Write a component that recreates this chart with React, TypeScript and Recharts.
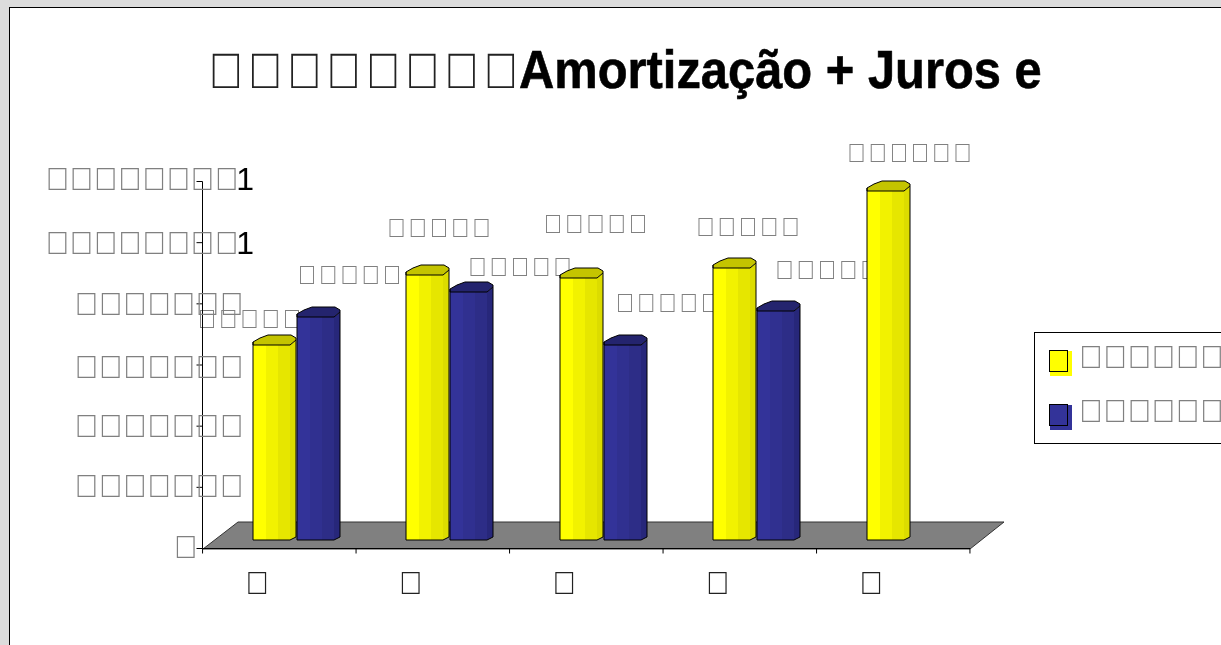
import { BarChart, Bar, XAxis, YAxis, Legend } from 'recharts'

const TOFU = '\uE000'
const box = (n: number) => TOFU.repeat(n)

const titleBoxes = box(8)
const titleText = 'Amortização + Juros e Correção'
const categories = [box(1), box(1), box(1), box(1), box(1)]
const yellowValues = [637000, 866000, 854000, 889000, 1141000]
const blueValues = [729000, 808000, 637000, 746000, null]
const yellowLabels = [box(5), box(5), box(5), box(5), box(6)]
const blueLabels = [box(5), box(5), box(5), box(5), '']
const yTicks = [0, 200000, 400000, 600000, 800000, 1000000, 1200000]
const yTickBoxes = [box(1), box(7), box(7), box(7), box(7), box(8), box(8)]
const yTickDigits = ['', '', '', '', '', '1', '1']
const seriesNames = [box(8), box(8)]

const chartData = categories.map((name, i) => ({ name, yellow: yellowValues[i], blue: blueValues[i] }))

// label nudges from the bar centre / cap top, the source chart places these by hand
const YELLOW_NUDGE = [[-26, -15], [10, -36], [13, -44], [12, -30], [20, -27]]
const BLUE_NUDGE = [[30, -31], [47, -15], [41, -31], [47, -31], [0, 0]]
const Y_TICK_END = [192, 238, 238, 238, 238, 233, 233]
const Y_TICK_DY = [9, 10, 11, 12.5, 10.7, 11.8, 8]

const DEPTH_X = 17
const DEPTH_Y = 9
const GREY = '#808080'
const FONT = '"Liberation Sans", Arial, sans-serif'

const YELLOW_SHADES = ['#ffff00', '#f2f200', '#e6e600', '#dcdc00', '#c4c400']
const BLUE_SHADES = ['#333399', '#303090', '#2d2d87', '#27277a', '#24246e']

// the missing-glyph boxes are narrower than the font's own, so squeeze them and keep the pitch
function Boxes({ left, base, text, size, pitch, squeeze, fill }: any) {
  const advance = size * 0.75
  return (
    <text
      transform={`translate(${left},${base}) scale(${squeeze},1)`}
      fontSize={size}
      fontFamily={FONT}
      fill={fill}
      letterSpacing={pitch / squeeze - advance}
    >
      {text}
    </text>
  )
}

function Column({ x, y, width, height, shades }: any) {
  if (!height || height <= 0) return null
  const left = Math.round(x + DEPTH_X)
  const top = Math.round(y - DEPTH_Y)
  const bottom = Math.round(y + height - DEPTH_Y)
  const w = width - 1
  const front = w - 6
  const a = Math.round(front * 0.36)
  const b = Math.round(front * 0.68)
  return (
    <g>
      <rect x={left} y={top} width={a} height={bottom - top} fill={shades[0]} />
      <rect x={left + a} y={top} width={b - a} height={bottom - top} fill={shades[1]} />
      <rect x={left + b} y={top} width={front - b} height={bottom - top} fill={shades[2]} />
      <polygon
        points={`${left + front},${top} ${left + w},${top - 5} ${left + w},${bottom - 3} ${left + front},${bottom}`}
        fill={shades[3]}
      />
      <polygon
        points={`${left},${top - 3} ${left + 7},${top - 7} ${left + 15},${top - 10} ${left + front + 1},${top - 10} ${left + w},${top - 7} ${left + w},${top - 5} ${left + front},${top} ${left},${top}`}
        fill={shades[4]}
        stroke="#000"
        strokeWidth={1}
        strokeLinejoin="round"
      />
      <path
        d={`M${left},${top - 3} L${left},${bottom} L${left + front},${bottom} L${left + w},${bottom - 3} L${left + w},${top - 5}`}
        fill="none"
        stroke="#000"
        strokeWidth={1}
      />
    </g>
  )
}

function ValueLabel({ x, y, width, text, nudge }: any) {
  if (!text) return null
  const pitch = 21.2
  const total = text.length * pitch - 7.7
  const cx = x + DEPTH_X + width / 2 + nudge[0] - 1
  return (
    <Boxes left={cx - total / 2 - 1} base={y - DEPTH_Y - 10 + nudge[1] + 8.5} text={text} size={26} pitch={pitch} squeeze={0.98} fill={GREY} />
  )
}

function YTick({ y, index }: any) {
  const text = yTickBoxes[index]
  const base = y + Y_TICK_DY[index]
  const left = Y_TICK_END[index] - text.length * 24.2 + 6
  return (
    <g>
      <Boxes left={left} base={base} text={text} size={32} pitch={24.2} squeeze={1} fill={GREY} />
      {yTickDigits[index] && (
        <text x={254} y={base} textAnchor="end" fontSize={32} fontFamily={FONT} fill="#000">
          {yTickDigits[index]}
        </text>
      )}
    </g>
  )
}

function XTick({ x, y, index, payload }: any) {
  const band = 767 / categories.length
  return (
    <g>
      <line x1={x - band / 2} x2={x - band / 2} y1={y - 8} y2={y - 3} stroke="#000" />
      {index === categories.length - 1 && <line x1={x + band / 2} x2={x + band / 2} y1={y - 8} y2={y - 3} stroke="#000" />}
      <Boxes left={x - 34} base={y + 37} text={payload.value} size={32} pitch={24.2} squeeze={1} fill="#222" />
    </g>
  )
}

function LegendBox({ payload }: any) {
  const items = (payload ?? []).filter((p: any) => p.type !== 'none')
  return (
    <div style={{ width: 200, height: 112, boxSizing: 'border-box', border: '1px solid #000', background: '#fff', paddingTop: 14, paddingLeft: 14 }}>
      {items.map((p: any, i: number) => (
        <div key={i} style={{ position: 'relative', height: 54 }}>
          <span style={{ position: 'absolute', left: 1, top: 4, width: 22, height: 25, background: p.color }} />
          <span style={{ position: 'absolute', left: 0, top: 3, width: 17, height: 20, border: '1px solid #000', background: p.color }} />
          <svg width={170} height={30} style={{ position: 'absolute', left: 30, top: -2 }}>
            <Boxes left={0} base={23} text={p.value} size={32} pitch={24.2} squeeze={1} fill={GREY} />
          </svg>
        </div>
      ))}
    </div>
  )
}

export default function App() {
  return (
    <div style={{ position: 'fixed', left: 0, top: 0, width: 1221, height: 645, overflow: 'hidden', background: '#dcdcdc' }}>
      <div style={{ position: 'absolute', left: 9, top: 7, width: 1300, height: 700, boxSizing: 'border-box', border: '1px solid #000', background: '#fff' }} />
      <svg width={1221} height={645} style={{ position: 'absolute', left: 0, top: 0, willChange: 'transform' }}>
        <defs>
          <clipPath id="title-clip">
            <rect x={200} y={30} width={847} height={80} />
          </clipPath>
        </defs>
        <g clipPath="url(#title-clip)">
          <Boxes left={208} base={87.5} text={titleBoxes} size={50} pitch={39.3} squeeze={0.95} fill="#222" />
          <text
            transform="translate(519,87.5) scale(0.905,1)"
            fontSize={54}
            fontWeight="bold"
            fontFamily={FONT}
            fill="#000"
            stroke="#000"
            strokeWidth={0.6}
          >
            {titleText}
          </text>
        </g>
        <polygon points="203,549 238,522 1004,522 970,549" fill={GREY} stroke="#333" strokeWidth={1} />
      </svg>
      <div style={{ position: 'absolute', left: 0, top: 0, willChange: 'transform' }}>
        <BarChart
          width={1221}
          height={645}
          data={chartData}
          margin={{ top: 181.5, right: 251, left: 0, bottom: 36.5 }}
          barSize={44}
          barGap={0}
        >
          <XAxis xAxisId="labels" dataKey="name" hide />
          <XAxis dataKey="name" height={60} tick={<XTick />} tickLine={false} axisLine={{ stroke: '#000' }} interval={0} />
          <YAxis
            width={202.5}
            domain={[0, 1200000]}
            ticks={yTicks}
            tick={<YTick />}
            tickSize={6}
            tickLine={{ stroke: '#000' }}
            axisLine={{ stroke: '#000' }}
            interval={0}
          />
          <Bar
            xAxisId="labels"
            dataKey="yellow"
            legendType="none"
            isAnimationActive={false}
            shape={(p: any) => <ValueLabel {...p} text={yellowLabels[p.index]} nudge={YELLOW_NUDGE[p.index]} />}
          />
          <Bar
            xAxisId="labels"
            dataKey="blue"
            legendType="none"
            isAnimationActive={false}
            shape={(p: any) => <ValueLabel {...p} text={blueLabels[p.index]} nudge={BLUE_NUDGE[p.index]} />}
          />
          <Bar dataKey="yellow" name={seriesNames[0]} fill="#ffff00" isAnimationActive={false} shape={(p: any) => <Column {...p} shades={YELLOW_SHADES} />} />
          <Bar dataKey="blue" name={seriesNames[1]} fill="#333399" isAnimationActive={false} shape={(p: any) => <Column {...p} shades={BLUE_SHADES} />} />
          <Legend
            layout="vertical"
            align="center"
            verticalAlign="middle"
            content={<LegendBox />}
            wrapperStyle={{ left: 1034, top: 332, width: 200 }}
          />
        </BarChart>
      </div>
    </div>
  )
}
